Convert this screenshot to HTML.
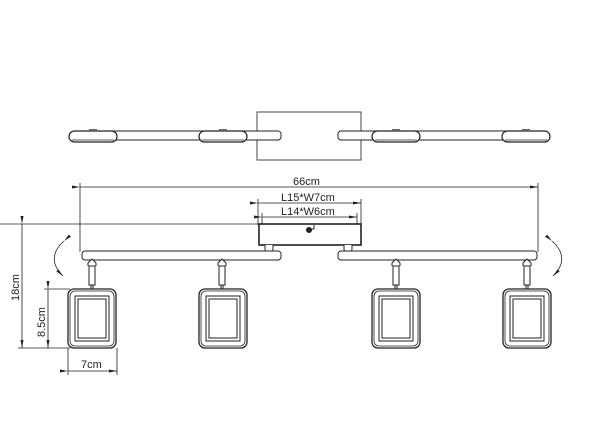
<!DOCTYPE html>
<html><head><meta charset="utf-8"><style>
html,body{margin:0;padding:0;background:#fff;width:600px;height:424px;overflow:hidden}
text{font-family:"Liberation Sans",sans-serif;font-size:11px;fill:#222}
</style></head><body>
<svg width="600" height="424" viewBox="0 0 600 424" xmlns="http://www.w3.org/2000/svg">
<defs>
<g id="lamp">
<rect x="-24" y="0" width="48" height="59" rx="6" fill="none" stroke="#222" stroke-width="1.3"/>
<rect x="-22" y="2" width="44" height="55" rx="5" fill="none" stroke="#222" stroke-width="0.8"/>
<rect x="-17" y="7" width="34" height="45" fill="none" stroke="#222" stroke-width="1"/>
<rect x="-14" y="10" width="28" height="39" fill="none" stroke="#222" stroke-width="1"/>
</g>
<g id="stem">
<path d="M-4,0 L-4,-3 L0,-7 L4,-3 L4,0 M-3,0 L-3,19 L3,19 L3,0 Z M-1,19 V23 M1,19 V23" fill="#fff" stroke="#222" stroke-width="1"/>
</g>
<g id="tlamp">
<rect x="-24" y="-4" width="48" height="11" rx="5.5" fill="#fff" stroke="#222" stroke-width="1.2"/>
<line x1="-21" y1="5" x2="21" y2="5" stroke="#222" stroke-width="0.8"/>
<rect x="-4" y="-6" width="8" height="2" fill="#666"/>
</g>
<marker id="ar" markerWidth="8" markerHeight="6" refX="8" refY="3" orient="auto" markerUnits="userSpaceOnUse"><path d="M0,1.5 L8,3 L0,4.5 Z" fill="#222"/></marker>
</defs>
<g stroke="#222" fill="none" stroke-width="1">
<rect x="257" y="112" width="104" height="48" stroke="#444"/>
<rect x="82" y="131" width="199" height="9" rx="3" fill="#fff"/>
<rect x="338" y="131" width="199" height="9" rx="3" fill="#fff"/>
</g>
<use href="#tlamp" x="93" y="135"/>
<use href="#tlamp" x="223" y="135"/>
<use href="#tlamp" x="396" y="135"/>
<use href="#tlamp" x="526" y="135"/>
<g stroke="#222" fill="none" stroke-width="0.8">
<line x1="80" y1="187" x2="538" y2="187" marker-start="url(#ar)" marker-end="url(#ar)"/>
<line x1="80" y1="183" x2="80" y2="252"/>
<line x1="538" y1="183" x2="538" y2="252"/>
<line x1="258" y1="203" x2="361" y2="203" marker-start="url(#ar)" marker-end="url(#ar)"/>
<line x1="258" y1="199" x2="258" y2="225"/>
<line x1="361" y1="199" x2="361" y2="225"/>
<line x1="262" y1="217" x2="357" y2="217" marker-start="url(#ar)" marker-end="url(#ar)"/>
<line x1="262" y1="213" x2="262" y2="225"/>
<line x1="357" y1="213" x2="357" y2="225"/>
<line x1="0" y1="224" x2="262" y2="224"/>
</g>
<text x="293" y="185">66cm</text>
<text x="281" y="201">L15*W7cm</text>
<text x="281" y="215">L14*W6cm</text>
<g stroke="#222" fill="#fff" stroke-width="1">
<rect x="259" y="224" width="102" height="21" stroke-width="1.6"/>
<circle cx="309" cy="230" r="2.5" fill="#222"/>
<path d="M311,229 H314 V225" fill="none"/>
<path d="M265,245 v4 a4,4 0 0 0 8,0 v-4" />
<path d="M344,245 v4 a4,4 0 0 0 8,0 v-4" />
<rect x="82" y="251" width="199" height="9" rx="3"/>
<rect x="338" y="251" width="199" height="9" rx="3"/>
</g>
<use href="#stem" x="92" y="266"/>
<use href="#stem" x="222" y="266"/>
<use href="#stem" x="396" y="266"/>
<use href="#stem" x="527" y="266"/>
<use href="#lamp" x="92" y="289"/>
<use href="#lamp" x="223" y="289"/>
<use href="#lamp" x="396" y="289"/>
<use href="#lamp" x="527" y="289"/>
<g stroke="#222" fill="none" stroke-width="0.8">
<path d="M64,241 Q45,258 63,276" marker-start="url(#ar)" marker-end="url(#ar)"/>
<path d="M552,241 Q571,258 553,276" marker-start="url(#ar)" marker-end="url(#ar)"/>
<line x1="22" y1="224" x2="22" y2="348" marker-start="url(#ar)" marker-end="url(#ar)"/>
<line x1="18" y1="348" x2="70" y2="348"/>
<line x1="48" y1="289" x2="48" y2="348" marker-start="url(#ar)" marker-end="url(#ar)"/>
<line x1="44" y1="289" x2="70" y2="289"/>
<line x1="68" y1="371" x2="117" y2="371" marker-start="url(#ar)" marker-end="url(#ar)"/>
<line x1="68" y1="348" x2="68" y2="375"/>
<line x1="117" y1="348" x2="117" y2="375"/>
</g>
<text x="0" y="0" transform="translate(19,301) rotate(-90)">18cm</text>
<text x="0" y="0" transform="translate(45,337) rotate(-90)">8.5cm</text>
<text x="81" y="368">7cm</text>
</svg>
</body></html>
